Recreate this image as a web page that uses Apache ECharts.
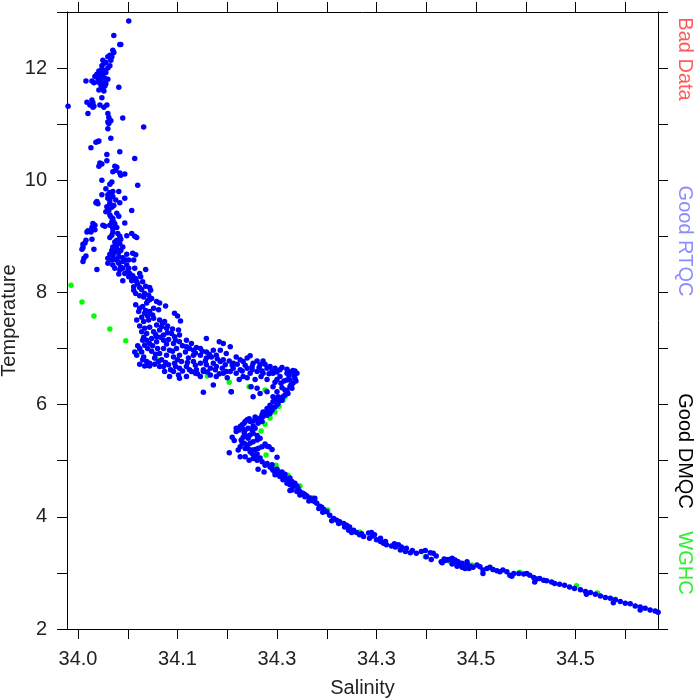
<!DOCTYPE html>
<html>
<head>
<meta charset="utf-8">
<script src="https://cdn.jsdelivr.net/npm/echarts@6/dist/echarts.min.js"></script>
<style>html,body{margin:0;padding:0;background:#fff}#chart{width:700px;height:700px}</style>
</head>
<body>
<div id="chart"></div>
<script>
// ---- data: [salinity, temperature] ----
const blueUpper = [[34.051,12.84],[34.036,12.58],[34.042,12.42],[34.043,12.42],[34.035,12.32],[34.036,12.28],[34.032,12.23],[34.034,12.20],[34.030,12.20],[34.025,12.14],[34.033,12.14],[34.026,12.08],[34.024,12.04],[34.032,12.04],[34.024,11.98],[34.026,11.96],[34.021,11.95],[34.025,11.91],[34.019,11.89],[34.023,11.88],[34.017,11.85],[34.025,11.85],[34.027,11.82],[34.022,11.79],[34.014,11.77],[34.008,11.77],[34.016,11.74],[34.025,11.74],[34.028,11.72],[34.023,11.70],[34.041,11.66],[34.025,11.64],[34.021,11.61],[34.026,11.59],[34.024,11.66],[34.024,11.47],[34.009,11.39],[34.014,11.43],[34.015,11.38],[34.012,11.34],[34.016,11.32],[34.015,11.30],[34.022,11.34],[34.029,11.34],[34.026,11.30],[33.990,11.32],[34.010,11.19],[34.030,11.19],[34.031,11.12],[34.045,11.11],[34.032,11.07],[34.030,11.04],[34.033,11.06],[34.031,11.01],[34.066,10.95],[34.030,10.92],[34.033,10.75],[34.021,10.70],[34.018,10.68],[34.020,10.69],[34.013,10.58],[34.042,10.51],[34.029,10.46],[34.057,10.39],
  [34.028,11.92],[34.030,11.80],[34.020,11.82],[34.027,11.68],[34.020,11.75],[34.030,12.00],[34.028,12.10]];

const blueRamp = [[34.022,10.31],[34.024,10.29],[34.021,10.25],[34.029,10.35],[34.037,10.25],[34.039,10.23],[34.038,10.18],[34.035,10.15],[34.042,10.13],[34.043,10.09],[34.047,10.11],[34.024,10.00],[34.034,9.97],[34.032,9.93],[34.060,9.91],[34.032,9.78],[34.035,9.80],[34.030,9.74],[34.024,9.74],[34.041,9.80],[34.035,9.71],[34.032,9.65],[34.038,9.65],[34.042,9.60],[34.047,9.68],[34.019,9.62],[34.020,9.58],[34.018,9.60],[34.032,9.59],[34.029,9.53],[34.034,9.52],[34.031,9.46],[34.028,9.44],[34.054,9.46],[34.039,9.41],[34.041,9.36],[34.032,9.38],[34.035,9.32],[34.034,9.26],[34.037,9.22],[34.032,9.20],[34.035,9.14],[34.039,9.16],[34.047,9.24],[34.025,9.20],[34.027,9.18],[34.015,9.23],[34.017,9.20],[34.014,9.16],[34.017,9.12],[34.010,9.10],[34.013,9.08],[34.009,9.08],[34.035,9.08],[34.034,9.02],[34.032,8.98],[34.054,9.05],[34.057,9.00],[34.059,8.98],[34.049,9.01],[34.042,9.00],[34.043,8.95],[34.039,8.93],[34.037,8.90],[34.042,8.87],[34.008,8.93],[34.007,8.88],[34.005,8.86],[34.014,8.95],[34.005,8.80],[34.004,8.77],[34.016,8.77],[34.035,8.81],[34.039,8.79],[34.034,8.75],[34.037,8.72],[34.041,8.72],[34.032,8.68],[34.035,8.65],[34.030,8.61],[34.034,8.58],[34.037,8.59],[34.041,8.64],[34.043,8.75],[34.045,8.81],[34.049,8.68],[34.055,8.70],[34.058,8.67],[34.008,8.65],[34.006,8.61],[34.005,8.55],[34.030,8.52],[34.035,8.49],[34.041,8.52],[34.045,8.55],[34.049,8.49],[34.051,8.58],[34.056,8.58],[34.019,8.41],[34.037,8.43],[34.042,8.40],[34.045,8.43],[34.051,8.43],[34.041,8.33],[34.047,8.34],[34.052,8.34],[34.045,8.21],[34.051,8.28],[34.057,8.43],[34.062,8.34],[34.068,8.41],[34.063,8.28],[34.054,8.21],[34.059,8.19],[34.065,8.19],[34.068,8.11],[34.072,8.09],[34.073,8.04],[34.062,8.09],[34.056,8.10],[34.056,8.04],[34.058,7.98],[34.062,7.94],[34.067,7.98],[34.071,7.95],[34.074,7.89],
  [34.028,9.85],[34.030,9.68],[34.036,9.55],[34.033,9.35],[34.036,9.25],[34.040,9.05],[34.038,8.85],[34.036,8.70],[34.040,8.55],[34.045,8.62],[34.048,8.58],[34.043,8.45],[34.050,8.38],[34.055,8.30],[34.058,8.25],[34.060,8.15],[34.064,8.05],[34.066,7.92],[34.070,7.85],[34.065,7.75],[34.068,7.68],[34.070,7.58],[34.062,7.40],[34.066,7.20],[34.060,7.05],[34.062,7.00],[34.065,6.80],[34.070,6.70]];

const blueBand = [[34.058,7.78],[34.062,7.72],[34.061,7.66],[34.069,7.81],[34.072,7.87],[34.079,7.84],[34.082,7.81],[34.088,7.76],[34.081,7.69],[34.076,7.72],[34.072,7.66],[34.067,7.63],[34.064,7.56],[34.059,7.51],[34.066,7.48],[34.071,7.51],[34.076,7.54],[34.082,7.51],[34.087,7.48],[34.097,7.63],[34.100,7.58],[34.103,7.49],[34.079,7.42],[34.084,7.39],[34.072,7.38],[34.067,7.36],[34.064,7.30],[34.069,7.27],[34.076,7.30],[34.082,7.33],[34.089,7.36],[34.094,7.27],[34.086,7.24],[34.079,7.21],[34.074,7.18],[34.069,7.15],[34.065,7.15],[34.067,7.06],[34.072,7.09],[34.079,7.12],[34.086,7.15],[34.091,7.16],[34.097,7.21],[34.102,7.24],[34.101,7.33],[34.089,7.08],[34.096,7.09],[34.102,7.12],[34.109,7.15],[34.114,7.09],[34.119,7.02],[34.109,7.03],[34.099,7.00],[34.092,6.97],[34.086,7.00],[34.082,6.91],[34.089,6.88],[34.096,6.85],[34.102,6.88],[34.108,6.94],[34.116,6.97],[34.123,7.00],[34.129,6.94],[34.136,6.97],[34.129,7.18],[34.142,7.12],[34.146,7.09],[34.153,7.03],[34.143,6.97],[34.139,6.88],[34.134,6.85],[34.129,6.83],[34.123,6.88],[34.116,6.88],[34.111,6.83],[34.104,6.77],[34.097,6.74],[34.091,6.71],[34.086,6.68],[34.081,6.77],[34.077,6.83],[34.072,6.74],[34.069,6.77],[34.066,6.85],[34.064,6.94],[34.057,6.94],[34.059,6.88],[34.062,6.72],[34.067,6.69],[34.072,6.69],[34.077,6.72],[34.082,6.68],[34.087,6.59],[34.092,6.50],[34.101,6.53],[34.102,6.47],[34.109,6.50],[34.114,6.59],[34.118,6.56],[34.126,6.62],[34.133,6.65],[34.139,6.68],[34.148,6.71],[34.156,6.74],[34.163,6.80],[34.170,6.83],[34.173,6.87],[34.180,6.78],[34.186,6.78],[34.193,6.68],[34.198,6.65],[34.203,6.62],[34.210,6.63],[34.216,6.61],[34.220,6.56],[34.218,6.47],[34.213,6.44],[34.216,6.38],[34.215,6.29],[34.211,6.20],[34.206,6.14],[34.203,6.08],[34.196,6.14],[34.200,6.23],[34.190,6.23],[34.183,6.20],[34.176,6.14],[34.174,6.32],[34.166,6.50],[34.159,6.56],[34.153,6.59],[34.146,6.56],[34.139,6.50],[34.133,6.53],[34.126,6.59],[34.119,6.62],[34.123,6.50],[34.136,6.35],[34.126,6.22],[34.154,6.23],[34.180,6.29],[34.109,6.68],[34.102,6.65],[34.096,6.59],[34.149,6.91],[34.159,6.85],[34.166,6.77],[34.176,6.74],[34.183,6.71],[34.190,6.65],[34.170,6.65],[34.163,6.62],[34.156,6.65],[34.143,6.77],[34.136,6.74],[34.129,6.71],[34.123,6.74],[34.116,6.77],[34.149,6.59],[34.173,6.56],[34.180,6.59],[34.186,6.56],[34.196,6.56],[34.203,6.50],[34.210,6.56],[34.213,6.32],[34.208,6.26],[34.204,6.38],[34.210,6.44],[34.196,6.32],[34.201,6.14],
  [34.075,7.60],[34.085,7.45],[34.090,7.40],[34.095,7.35],[34.078,7.25],[34.083,7.20],[34.090,7.28],[34.098,7.15],[34.105,7.05],[34.112,7.00],[34.118,6.92],[34.125,6.95],[34.132,6.90],[34.140,6.82],[34.146,6.80],[34.152,6.78],[34.160,6.72],[34.168,6.70],[34.175,6.68],[34.182,6.66],[34.188,6.72],[34.195,6.60],[34.200,6.58],[34.205,6.66],[34.212,6.52],[34.217,6.52],[34.219,6.42],[34.214,6.35],[34.210,6.25],[34.205,6.30],[34.198,6.40],[34.190,6.45],[34.184,6.50],[34.178,6.45],[34.170,6.48],[34.162,6.45],[34.150,6.48],[34.142,6.55],[34.130,6.58],[34.120,6.55],[34.112,6.62],[34.105,6.60],[34.098,6.68],[34.093,6.62],[34.088,6.75],[34.084,6.80],[34.078,6.90],[34.074,6.95],[34.070,7.00],[34.075,7.05],[34.080,7.00],[34.095,6.95],[34.100,6.80],[34.110,6.75],[34.118,6.70],[34.128,6.78],[34.138,6.62],[34.145,6.65],[34.155,6.70],[34.165,6.60],[34.175,6.62],[34.185,6.60],[34.192,6.55],[34.200,6.45],[34.207,6.42],[34.213,6.58],[34.218,6.60]];

const blueBend = [[34.205,6.08],[34.201,6.02],[34.198,5.96],[34.195,5.90],[34.193,5.84],[34.190,5.81],[34.186,5.79],[34.183,5.76],[34.180,5.73],[34.176,5.71],[34.173,5.70],[34.170,5.73],[34.167,5.67],[34.165,5.58],[34.168,5.55],[34.171,5.58],[34.175,5.55],[34.178,5.58],[34.176,5.49],[34.173,5.46],[34.169,5.44],[34.166,5.42],[34.164,5.37],[34.167,5.31],[34.170,5.28],[34.173,5.31],[34.176,5.34],[34.180,5.37],[34.183,5.40],[34.171,5.22],[34.175,5.19],[34.178,5.20],[34.181,5.22],[34.185,5.25],[34.190,5.26],[34.192,5.25],[34.163,5.25],[34.161,5.19],[34.159,5.58],[34.159,5.52],[34.155,5.42],[34.157,5.36],[34.152,5.14],[34.175,5.13],[34.178,5.08],[34.176,5.04],[34.180,5.01],[34.185,4.98],[34.188,4.92],[34.193,4.89],[34.196,4.83],[34.200,5.06],[34.198,4.75],[34.203,4.72],[34.206,4.66],[34.210,4.60],[34.213,4.57],[34.215,4.48],[34.220,4.45],[34.223,4.39],[34.228,4.36],[34.233,4.33],[34.238,4.33],[34.187,4.80],[34.181,4.85],[34.163,5.07],[34.168,5.07],[34.172,5.01],[34.213,4.69],[34.208,4.76],[34.202,4.80],[34.186,5.87],[34.190,5.93],[34.193,5.99],[34.196,6.05],[34.200,6.11],[34.208,6.17],[34.181,5.67],[34.185,5.70],[34.163,5.61],[34.154,6.23],
  [34.200,6.00],[34.195,5.95],[34.190,5.88],[34.185,5.82],[34.178,5.78],[34.172,5.75],[34.168,5.70],[34.165,5.64],[34.162,5.55],[34.167,5.50],[34.171,5.40],[34.165,5.32],[34.168,5.22],[34.173,5.16],[34.180,5.12],[34.183,5.05],[34.190,4.95],[34.195,4.93],[34.200,4.85],[34.205,4.80],[34.188,5.30],[34.195,5.20],[34.180,5.45],[34.176,5.62],[34.205,6.12],[34.198,6.08]];

const blueDeep = [[34.195,4.86],[34.198,4.80],[34.201,4.75],[34.205,4.72],[34.208,4.69],[34.211,4.66],[34.215,4.63],[34.218,4.60],[34.216,4.54],[34.221,4.51],[34.223,4.45],[34.213,4.47],[34.226,4.42],[34.230,4.37],[34.233,4.33],[34.236,4.31],[34.238,4.27],[34.240,4.24],[34.243,4.19],[34.242,4.15],[34.247,4.13],[34.250,4.09],[34.253,4.03],[34.257,3.97],[34.255,3.93],[34.263,3.91],[34.267,3.88],[34.270,3.85],[34.273,3.82],[34.272,3.76],[34.277,3.76],[34.280,3.72],[34.283,3.68],[34.287,3.65],[34.292,3.71],[34.295,3.72],[34.298,3.68],[34.293,3.62],[34.300,3.59],[34.304,3.56],[34.307,3.53],[34.310,3.50],[34.315,3.48],[34.319,3.46],[34.322,3.50],[34.325,3.46],[34.324,3.41],[34.329,3.38],[34.334,3.36],[34.340,3.35],[34.345,3.38],[34.349,3.40],[34.354,3.36],[34.357,3.35],[34.350,3.29],[34.355,3.24],[34.365,3.20],[34.371,3.23],[34.374,3.24],[34.377,3.23],[34.381,3.20],[34.386,3.17],[34.391,3.20],[34.381,3.12],[34.386,3.10],[34.389,3.08],[34.393,3.08],[34.376,3.16],[34.200,4.77],[34.210,4.67],[34.220,4.55],[34.235,4.29],[34.245,4.17],[34.260,3.94],[34.268,3.82],[34.304,3.62],[34.309,3.56],[34.213,4.63],
  [34.228,4.40],[34.232,4.28],[34.246,4.08],[34.262,3.88],[34.275,3.72],[34.285,3.70],[34.296,3.66],[34.318,3.52],[34.330,3.44],[34.336,3.40],[34.360,3.30],[34.368,3.25]];

const blueTail = [[34.366,3.18],[34.369,3.22],[34.372,3.24],[34.376,3.26],[34.379,3.23],[34.377,3.17],[34.382,3.20],[34.384,3.14],[34.387,3.11],[34.391,3.16],[34.394,3.12],[34.397,3.10],[34.401,3.14],[34.404,3.11],[34.407,3.05],[34.411,3.08],[34.414,3.10],[34.417,3.06],[34.421,3.04],[34.424,3.02],[34.427,3.05],[34.431,3.02],[34.434,2.96],[34.438,2.99],[34.443,2.99],[34.448,2.98],[34.451,2.99],[34.454,2.96],[34.458,2.92],[34.461,2.89],[34.464,2.90],[34.468,2.87],[34.471,2.86],[34.476,2.84],[34.479,2.81],[34.484,2.80],[34.489,2.78],[34.494,2.75],[34.499,2.72],[34.505,2.70],[34.510,2.67],[34.515,2.65],[34.520,2.62],[34.525,2.59],[34.530,2.56],[34.535,2.55],[34.540,2.52],[34.545,2.49],[34.550,2.46],[34.555,2.45],[34.560,2.41],[34.565,2.39],[34.570,2.37],[34.575,2.34],[34.580,2.32],[34.583,2.30],[34.407,2.99],[34.436,2.94],[34.459,2.84],[34.511,2.62],[34.538,2.47],[34.565,2.34]];

const wghcProfile = [[33.993,8.13],[34.004,7.83],[34.016,7.58],[34.032,7.35],[34.048,7.14],[34.062,6.97],[34.079,6.81],[34.130,6.51],[34.152,6.40],[34.172,6.32],[34.188,6.26],[34.208,6.14],[34.206,6.08],[34.202,5.97],[34.198,5.87],[34.193,5.76],[34.188,5.65],[34.184,5.53],[34.182,5.39],[34.183,5.24],[34.189,5.10],[34.199,4.92],[34.211,4.74],[34.223,4.55],[34.235,4.34],[34.251,4.12],[34.283,3.73],[34.304,3.59],[34.325,3.42],[34.349,3.29],[34.374,3.20],[34.396,3.14],[34.417,3.06],[34.444,3.01],[34.501,2.77],[34.522,2.64],[34.540,2.53]];

const xTickValues = [34.00,34.05,34.10,34.15,34.20,34.25,34.30,34.35,34.40,34.45,34.50,34.55];
const xLabelValues = [34.0,34.1,34.2,34.3,34.4,34.5];
const xLabelTexts = ['34.0','34.1','34.3','34.3','34.5','34.5'];
const yLabelValues = [2,4,6,8,10,12];
const sideLabels = ['Bad Data','Good RTQC','Good DMQC','WGHC'];
const sideColors = ['#ff5a5a','#8c8cff','#000000','#2ef02e'];
const sideCenters = [59,241,451,563];

const FONT = '"Liberation Sans", Arial, sans-serif';
const X_MIN = 33.98894, X_MAX = 34.58291;

const blueAll = [].concat(blueUpper, blueRamp, blueBand, blueBend, blueDeep, blueTail);

const chart = echarts.init(document.getElementById('chart'), null, {renderer:'canvas'});
const lineStyle = {color:'#000', width:1};
chart.setOption({
  animation:false,
  backgroundColor:'#fff',
  grid:{left:67, right:42, top:12, bottom:71, containLabel:false, outerBoundsMode:'none'},
  xAxis:[{
    type:'value', min:X_MIN, max:X_MAX, position:'bottom',
    name:'Salinity', nameLocation:'middle', nameGap:49, nameMoveOverlap:false,
    nameTextStyle:{fontFamily:FONT, fontSize:20, color:'#222'},
    axisLine:{show:true, onZero:false, lineStyle},
    axisTick:{show:true, inside:false, length:10, lineStyle, customValues:xTickValues},
    axisLabel:{show:true, margin:20, fontFamily:FONT, fontSize:20, color:'#222',
      customValues:xLabelValues,
      formatter:(v)=>{ const i = xLabelValues.findIndex(x=>Math.abs(x-v)<1e-6); return i>=0?xLabelTexts[i]:''; }},
    splitLine:{show:false}
  },{
    type:'value', min:X_MIN, max:X_MAX, position:'top',
    axisLine:{show:true, onZero:false, lineStyle},
    axisTick:{show:true, inside:false, length:10, lineStyle, customValues:xTickValues},
    axisLabel:{show:false}, splitLine:{show:false}
  }],
  yAxis:[{
    type:'value', min:2, max:13, interval:1, position:'left',
    name:'Temperature', nameLocation:'middle', nameGap:48, nameRotate:90, nameMoveOverlap:false,
    nameTextStyle:{fontFamily:FONT, fontSize:20, color:'#222'},
    axisLine:{show:true, onZero:false, lineStyle},
    axisTick:{show:true, inside:false, length:10, lineStyle},
    axisLabel:{show:true, margin:20, fontFamily:FONT, fontSize:20, color:'#222',
      customValues:yLabelValues, formatter:(v)=>String(v)},
    splitLine:{show:false}
  },{
    type:'value', min:2, max:13, interval:1, position:'right',
    axisLine:{show:true, onZero:false, lineStyle},
    axisTick:{show:true, inside:false, length:10, lineStyle},
    axisLabel:{show:false}, splitLine:{show:false}
  }],
  series:[{
    type:'scatter', name:'WGHC', data:wghcProfile, symbolSize:5.5,
    itemStyle:{color:'#00ff00', opacity:1}, z:2, silent:true
  },{
    type:'scatter', name:'Good DMQC', data:blueAll, symbolSize:5.5,
    itemStyle:{color:'#0000ff', opacity:1}, z:3, silent:true
  }],
  graphic: sideLabels.map((t,i)=>({
    type:'text', x:685, y:sideCenters[i], rotation:-Math.PI/2,
    style:{text:t, fill:sideColors[i], font:'20px '+FONT, textAlign:'center', textVerticalAlign:'middle'}
  }))
});
</script>
</body>
</html>
